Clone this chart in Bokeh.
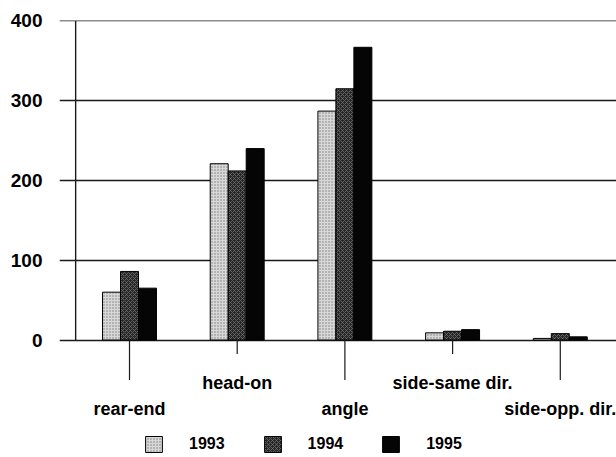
from bokeh.plotting import figure
from bokeh.models import Range1d, FixedTicker, ColumnDataSource
from bokeh.embed import file_html
from bokeh.resources import INLINE
from bokeh.core.properties import value

categories = ["rear-end", "head-on", "angle", "side-same dir.", "side-opp. dir."]
years = ["1993", "1994", "1995"]
v1993 = [60, 221, 287, 9, 2]
v1994 = [86, 212, 315, 11, 8]
v1995 = [65, 240, 367, 13, 4]
y_ticks = [0, 100, 200, 300, 400]

series = [v1993, v1994, v1995]
styles = [
    dict(fill_color="#d8d8d8", hatch_pattern="dot", hatch_color="#7a7a7a", hatch_scale=3, hatch_weight=1),
    dict(fill_color="#262626", hatch_pattern="diagonal_cross", hatch_color="#707070", hatch_scale=4, hatch_weight=0.8),
    dict(fill_color="#050505"),
]

FONT = value("Liberation Sans")

p = figure(width=616, height=457,
           x_range=Range1d(-0.65, 4.522), y_range=Range1d(-147.3, 400.6),
           output_backend="svg", toolbar_location=None, x_axis_location=None,
           min_border_left=59, min_border_right=0, min_border_top=20, min_border_bottom=0)
p.outline_line_color = None
p.background_fill_color = "white"
p.border_fill_color = "white"
p.xgrid.visible = False

p.yaxis.ticker = FixedTicker(ticks=y_ticks)
p.ygrid.ticker = FixedTicker(ticks=y_ticks)
p.ygrid.grid_line_color = "#1a1a1a"
p.ygrid.grid_line_width = 1.5
p.yaxis.axis_line_color = None
p.yaxis.major_tick_line_color = None
p.yaxis.minor_tick_line_color = None
p.yaxis.major_label_text_font = "Liberation Sans"
p.yaxis.major_label_text_font_style = "bold"
p.yaxis.major_label_text_font_size = "19px"
p.yaxis.major_label_text_color = "black"
p.yaxis.major_label_standoff = 11

bar_w = 0.167
idx = list(range(len(categories)))
for k, (yr, vals, st) in enumerate(zip(years, series, styles)):
    xs = [i + (k - 1) * bar_w for i in idx]
    src = ColumnDataSource(dict(x=xs, top=vals))
    p.vbar(x="x", top="top", bottom=0, width=bar_w, source=src,
           line_color="black", line_width=1, legend_label=yr, **st)

# y axis line (from 0 to 400)
p.segment(x0=[-0.5], y0=[0], x1=[-0.5], y1=[max(y_ticks)], line_color="#1a1a1a", line_width=1.4)

# category ticks and staggered labels
short_idx = [i for i in idx if i % 2 == 1]
long_idx = [i for i in idx if i % 2 == 0]
p.segment(x0=short_idx, y0=[0] * len(short_idx), x1=short_idx, y1=[-17.5] * len(short_idx),
          line_color="#1a1a1a", line_width=1.2)
p.segment(x0=long_idx, y0=[0] * len(long_idx), x1=long_idx, y1=[-50] * len(long_idx),
          line_color="#1a1a1a", line_width=1.2)
p.text(x=short_idx, y=[-53.3] * len(short_idx), text=[categories[i] for i in short_idx],
       text_font=FONT, text_font_style="bold", text_font_size="18px",
       text_align="center", text_baseline="alphabetic", text_color="black")
p.text(x=long_idx, y=[-86.5] * len(long_idx), text=[categories[i] for i in long_idx],
       text_font=FONT, text_font_style="bold", text_font_size="18px",
       text_align="center", text_baseline="alphabetic", text_color="black")

lg = p.legend[0]
lg.orientation = "horizontal"
lg.location = (84, 3)
lg.padding = 0
lg.margin = 0
lg.spacing = 37
lg.glyph_width = 21
lg.glyph_height = 20
lg.label_standoff = 25
lg.label_text_font = "Liberation Sans"
lg.label_text_font_style = "bold"
lg.label_text_font_size = "16px"
lg.label_text_color = "black"
lg.border_line_color = None
lg.background_fill_alpha = 0

open("out.html", "w").write(file_html(p, INLINE))
